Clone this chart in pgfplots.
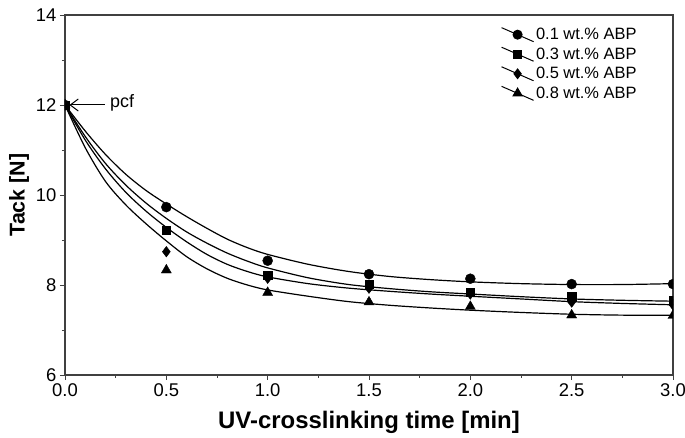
\documentclass[border=0pt]{standalone}
\usepackage{fontspec}
\setmainfont{Liberation Sans}
\usepackage{pgfplots}
\pgfplotsset{compat=1.18}
\usetikzlibrary{arrows.meta}
\begin{document}
\begin{tikzpicture}
\begin{axis}[
  scale only axis, width=608bp, height=360bp,
  xmin=0, xmax=3, ymin=6, ymax=14,
  xtick={0,0.5,1,1.5,2,2.5,3}, ytick={6,8,10,12,14},
  minor x tick num=1, minor y tick num=1,
  tick align=outside, xtick pos=bottom, ytick pos=left,
  major tick length=5bp, minor tick length=3bp,
  axis line style={line width=1.1bp, draw=black!75},
  every tick/.style={line width=0.9bp, black!75},
  /pgf/number format/assume math mode=true,
  xticklabel style={/pgf/number format/fixed, /pgf/number format/fixed zerofill, /pgf/number format/precision=1},
  ticklabel style={font=\fontsize{18.5}{20}\selectfont, black},
  xlabel={UV-crosslinking time [min]}, ylabel={Tack [N]},
  xlabel style={font=\bfseries\fontsize{24}{26}\selectfont, yshift=-8bp},
  ylabel style={font=\bfseries\fontsize{21.5}{24}\selectfont},
  clip marker paths=true,
  legend image code/.code={\draw[mark repeat=2, mark phase=2, #1] plot coordinates {(0bp,7bp) (16bp,0bp) (32bp,-7bp)};},
  legend style={at={(0.712,0.975)}, anchor=north west, draw=none, fill=none, font=\fontsize{16.5}{18}\selectfont, row sep=2.6bp},
  legend cell align=left,
]
\coordinate (sw) at (rel axis cs:0,0);
\coordinate (ne) at (rel axis cs:1,1);
% fitted curves
\addplot[black, line width=1.2bp, smooth, forget plot] coordinates {
(0,12) (0.1,11.42) (0.2,10.90) (0.3,10.46) (0.4,10.10) (0.5,9.80) (0.6,9.52) (0.7,9.26) (0.8,9.02) (0.9,8.83) (1.0,8.68) (1.2,8.46) (1.4,8.30) (1.6,8.19) (1.8,8.12) (2.0,8.07) (2.25,8.03) (2.5,8.01) (2.75,8.01) (3.0,8.03)};
\addplot[black, line width=1.2bp, smooth, forget plot] coordinates {
(0,12) (0.1,11.30) (0.2,10.70) (0.3,10.22) (0.4,9.82) (0.5,9.48) (0.6,9.18) (0.7,8.93) (0.8,8.71) (0.9,8.53) (1.0,8.38) (1.2,8.16) (1.4,8.01) (1.6,7.92) (1.8,7.85) (2.0,7.80) (2.25,7.74) (2.5,7.69) (2.75,7.66) (3.0,7.64)};
\addplot[black, line width=1.2bp, smooth, forget plot] coordinates {
(0,12) (0.1,11.22) (0.2,10.58) (0.3,10.06) (0.4,9.64) (0.5,9.28) (0.6,8.96) (0.7,8.68) (0.8,8.46) (0.9,8.30) (1.0,8.18) (1.2,8.03) (1.4,7.93) (1.6,7.86) (1.8,7.80) (2.0,7.75) (2.25,7.69) (2.5,7.63) (2.75,7.59) (3.0,7.56)};
\addplot[black, line width=1.2bp, smooth, forget plot] coordinates {
(0,12) (0.1,11.05) (0.2,10.30) (0.3,9.78) (0.4,9.36) (0.5,8.98) (0.6,8.63) (0.7,8.36) (0.8,8.15) (0.9,8.00) (1.0,7.89) (1.2,7.75) (1.4,7.63) (1.6,7.55) (1.8,7.49) (2.0,7.44) (2.25,7.39) (2.5,7.35) (2.75,7.33) (3.0,7.33)};
% measured points
\addplot[only marks, black, mark=*, mark size=5bp, forget plot] coordinates {
(0,12) (0.5,9.73) (1.0,8.54) (1.5,8.24) (2.0,8.14) (2.5,8.02) (3.0,8.02)};
\addplot[only marks, black, mark=square*, mark size=4.2bp, forget plot] coordinates {
(0,12) (0.5,9.22) (1.0,8.22) (1.5,8.02) (2.0,7.84) (2.5,7.74) (3.0,7.65)};
\addplot[only marks, black, mark=diamond*, mark size=5.3bp, forget plot] coordinates {
(0,12) (0.5,8.74) (1.0,8.15) (1.5,7.93) (2.0,7.80) (2.5,7.62) (3.0,7.56)};
\addplot[only marks, black, mark=triangle*, mark size=5.8bp, forget plot] coordinates {
(0,12) (0.5,8.33) (1.0,7.83) (1.5,7.62) (2.0,7.52) (2.5,7.33) (3.0,7.32)};
\addlegendimage{black, line width=1bp, mark=*, mark size=4.5bp, mark options={solid}}
\addlegendentry{0.1 wt.\% ABP}
\addlegendimage{black, line width=1bp, mark=square*, mark size=3.8bp, mark options={solid}}
\addlegendentry{0.3 wt.\% ABP}
\addlegendimage{black, line width=1bp, mark=diamond*, mark size=4.8bp, mark options={solid}}
\addlegendentry{0.5 wt.\% ABP}
\addlegendimage{black, line width=1bp, mark=triangle*, mark size=5.2bp, mark options={solid}}
\addlegendentry{0.8 wt.\% ABP}
\draw[-{Straight Barb[length=8bp,width=12bp]}, line width=1bp] (axis cs:0.197,12) -- (axis cs:0.022,12);
\node[anchor=west, inner sep=0pt, font=\fontsize{18}{20}\selectfont] at (axis cs:0.222,12.04) {pcf};
\end{axis}
\pgfresetboundingbox
\path[use as bounding box] ([xshift=-65bp,yshift=-63bp]sw) rectangle ([xshift=12bp,yshift=15bp]ne);
\end{tikzpicture}
\end{document}
